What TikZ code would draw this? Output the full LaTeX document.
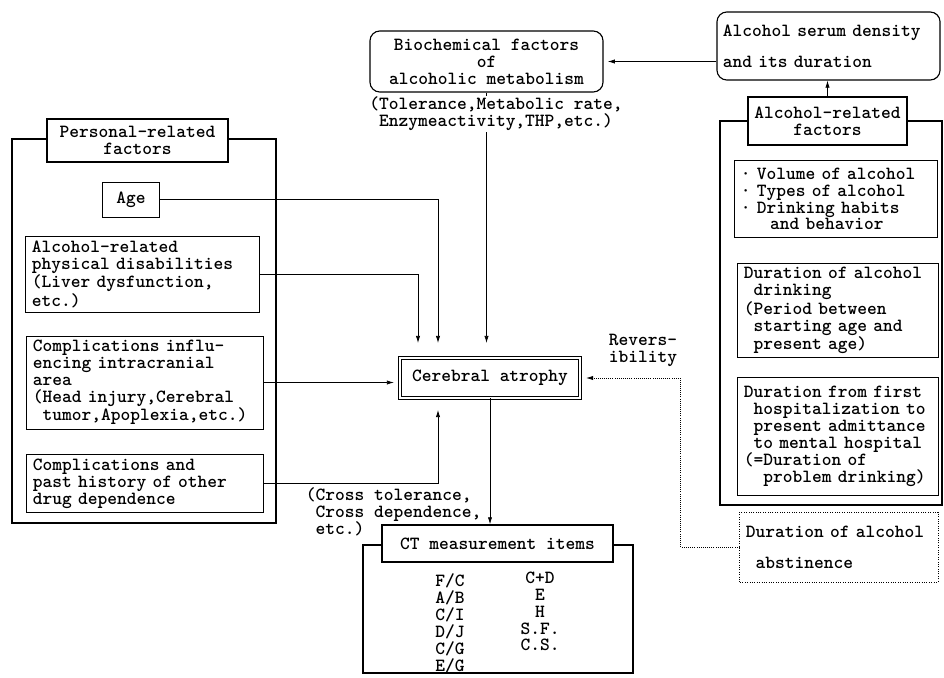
\documentclass[tikz,border=0pt]{standalone}
\usetikzlibrary{arrows.meta,positioning,calc}
\tikzset{
  every node/.style={font=\fontsize{13.2}{12}\selectfont\ttfamily\bfseries},
  box/.style={draw, line width=0.7pt, inner xsep=0.15cm, inner ysep=3pt, align=left},
  titlebox/.style={draw, line width=1pt, fill=white, align=center},
  roundbox/.style={draw, line width=0.8pt, rounded corners=7pt, inner xsep=0.15cm, align=left},
  frame/.style={line width=1.1pt},
  arr/.style={-{Latex[length=5pt,width=3pt]}, line width=0.5pt},
  dotarr/.style={arr, densely dotted},
}
\newcommand{\tsp}{\hphantom{x}}

\begin{document}
\begin{tikzpicture}[x=0.025cm,y=-0.025cm]
    \useasboundingbox (0,0) rectangle (944,677);

    % personal-related factors
    \draw[frame] (12,139) rectangle (276,523);
    \node[titlebox, minimum width=4.525cm, minimum height=1.075cm] (ptitle) at (137.5,140.5) {Personal-related\\factors};
    \node[box, align=center, inner xsep=2pt, minimum width=1.425cm, minimum height=0.875cm] (age) at (131,199.5) {Age};
    \node[box, text width=5.525cm, minimum height=1.825cm] (phys) at (142.5,274.5) {Alcohol-related\\physical disabilities\\(Liver dysfunction,\\etc.)};
    \node[box, text width=5.6cm, minimum height=2.325cm] (intra) at (145,382.5) {Complications influ-\\encing intracranial\\area\\(Head injury,Cerebral\\\tsp tumor,Apoplexia,etc.)};
    \node[box, text width=5.6cm, minimum height=1.425cm] (drug) at (145,483.5) {Complications and\\past history of other\\drug dependence};

    % centre
    \node[draw, double, double distance=1.6pt, line width=0.6pt, minimum width=4.5cm, minimum height=1cm] (ca) at (490,378) {Cerebral atrophy};
    \node[roundbox, align=center, minimum width=5.825cm, minimum height=1.525cm] (bio) at (486.5,61.5) {Biochemical factors\\of\\alcoholic metabolism};

    \coordinate (in1) at (418,343);
    \coordinate (in2) at (438,343);
    \coordinate (in3) at (438,410);
    \draw[arr] (age.east) -| (in2);
    \draw[arr] (phys.east) -| (in1);
    \draw[arr, shorten >=4pt] (intra.east) -- (intra.east -| ca.west);
    \draw[arr] (drug.east) -| (in3);
    \draw[arr] (bio.south) -- (bio.south |- in1);
    \node[fill=white, align=center, inner sep=1pt] (biotxt) at (496,114) {(Tolerance,Metabolic rate,\\Enzymeactivity,THP,etc.)};

    % alcohol-related factors
    \draw[frame] (720,121) rectangle (942,505);
    \node[titlebox, minimum width=3.975cm, minimum height=1.2cm] (atitle) at (827.5,121) {Alcohol-related\\factors};
    \node[roundbox, text width=5.275cm, minimum height=1.7cm] (serum) at (828.5,46) {Alcohol serum density\\[10pt]and its duration};
    \node[box, text width=4.75cm, minimum height=1.925cm] (vol) at (836,199) {\textperiodcentered\ Volume of alcohol\\\textperiodcentered\ Types of alcohol\\\textperiodcentered\ Drinking habits\\\tsp\tsp\tsp and behavior};
    \node[box, text width=4.7cm, minimum height=2.325cm] (dur) at (838,310.5) {Duration of alcohol\\\tsp drinking\\(Period between\\\tsp starting age and\\\tsp present age)};
    \node[box, text width=4.7cm, minimum height=2.925cm] (hosp) at (838,436.5) {Duration from first\\\tsp hospitalization to\\\tsp present admittance\\\tsp to mental hospital\\(=Duration of\\\tsp\tsp problem drinking)};
    \node[box, densely dotted, text width=4.65cm, minimum height=1.75cm] (abst) at (839,547) {Duration of alcohol\\[10pt]\tsp abstinence};

    \draw[arr] (atitle.north) -- (atitle.north |- serum.south);
    \draw[arr, shorten >=3pt] (serum.west |- bio.east) -- (bio.east);
    \draw[dotarr, shorten >=4pt] (abst.west) -- ++(-59,0) |- (ca.east);
    \node[align=left] (rev) at (643,350) {Revers-\\ibility};

    % CT items
    \draw[frame] (363,545) rectangle (633,673);
    \node[titlebox, minimum width=5.775cm, minimum height=0.925cm] (ctt) at (497.5,543.5) {CT measurement items};
    \node[align=center] (ct1) at (450,623.5) {F/C\\A/B\\C/I\\D/J\\C/G\\E/G};
    \node[align=center] (ct2) at (540,611.5) {C+D\\E\\H\\S.F.\\C.S.};
    \draw[arr] (ca.south) -- (ca.south |- ctt.north);
    \node[align=left, anchor=west] (cross) at (301,512) {(Cross tolerance,\\\tsp Cross dependence,\\\tsp etc.)};
\end{tikzpicture}
\end{document}
